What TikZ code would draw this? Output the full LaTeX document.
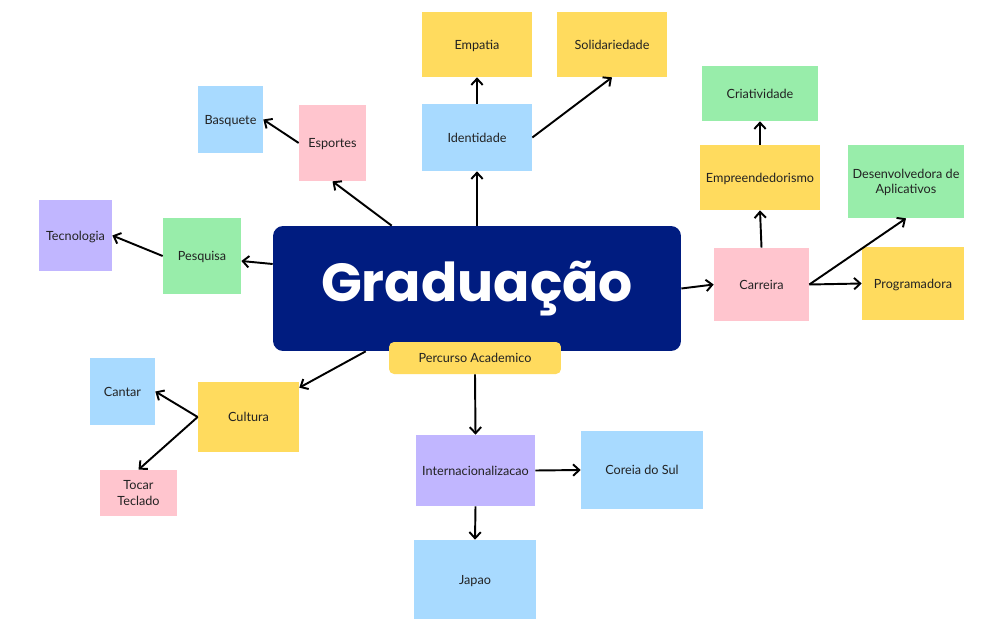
\documentclass[tikz,border=0pt]{standalone}
\usepackage{fontspec}
\setmainfont{Lato}
\newfontfamily\titlefont{Poppins}
\usetikzlibrary{arrows.meta,calc}
\definecolor{yel}{HTML}{FFDB5E}
\definecolor{blu}{HTML}{A8DAFF}
\definecolor{pnk}{HTML}{FFC5CE}
\definecolor{grn}{HTML}{98EDAA}
\definecolor{pur}{HTML}{C1B6FF}
\definecolor{navy}{HTML}{001C80}
\definecolor{txt}{HTML}{222222}
\begin{document}
\begin{tikzpicture}[x=0.02cm,y=-0.02cm,
  box/.style={rectangle, inner sep=0pt, font=\fontsize{7.2}{8.7}\selectfont, text=txt, align=center, text depth=0pt},
  arr/.style={line width=1.1pt, -{Straight Barb[length=3.5pt,width=6.5pt]}}]
\useasboundingbox (0,0) rectangle (1000,635);
\fill[white] (0,0) rectangle (1000,635);
% central
\node[rectangle, fill=navy, rounded corners=0.2cm, minimum width=8.16cm, minimum height=2.5cm, inner sep=0pt,
  text=white, font=\titlefont\bfseries\fontsize{30.5}{34}\selectfont] (main) at (477,288.5) {Graduação};
\node[box, fill=yel, rounded corners=0.1cm, minimum width=3.44cm, minimum height=0.64cm] (perc) at (475,358) {Percurso Academico};
% top
\node[box, fill=yel, minimum width=2.2cm, minimum height=1.3cm] (emp) at (477,44.5) {Empatia};
\node[box, fill=yel, minimum width=2.2cm, minimum height=1.3cm] (sol) at (612,44.5) {Solidariedade};
\node[box, fill=blu, minimum width=2.2cm, minimum height=1.34cm] (ide) at (477,137.5) {Identidade};
\node[box, fill=blu, minimum width=1.3cm, minimum height=1.34cm] (basq) at (230.5,119.5) {Basquete};
\node[box, fill=pnk, minimum width=1.34cm, minimum height=1.52cm] (esp) at (332.5,143) {Esportes};
% left
\node[box, fill=pur, minimum width=1.46cm, minimum height=1.42cm] (tec) at (75.5,235.5) {Tecnologia};
\node[box, fill=grn, minimum width=1.56cm, minimum height=1.52cm] (pesq) at (202,256) {Pesquisa};
\node[box, fill=blu, minimum width=1.3cm, minimum height=1.34cm] (cantar) at (122.5,391.5) {Cantar};
\node[box, fill=yel, minimum width=2.02cm, minimum height=1.4cm] (cult) at (248.5,417) {Cultura};
\node[box, fill=pnk, minimum width=1.54cm, minimum height=0.92cm] (tocar) at (138.5,493) {Tocar\\Teclado};
% bottom
\node[box, fill=pur, minimum width=2.38cm, minimum height=1.42cm] (intern) at (475.5,470.5) {Internacionalizacao};
\node[box, fill=blu, minimum width=2.44cm, minimum height=1.56cm] (coreia) at (642,470) {Coreia do Sul};
\node[box, fill=blu, minimum width=2.44cm, minimum height=1.58cm] (japao) at (475,579.5) {Japao};
% right
\node[box, fill=grn, minimum width=2.32cm, minimum height=1.1cm] (cria) at (760,93.5) {Criatividade};
\node[box, fill=yel, minimum width=2.4cm, minimum height=1.3cm] (empre) at (760,177.5) {Empreendedorismo};
\node[box, fill=grn, minimum width=2.32cm, minimum height=1.46cm] (desenv) at (906,181.5) {Desenvolvedora de\\Aplicativos};
\node[box, fill=pnk, minimum width=1.9cm, minimum height=1.46cm] (carr) at (761.5,284.5) {Carreira};
\node[box, fill=yel, minimum width=2.04cm, minimum height=1.46cm] (prog) at (913,283.5) {Programadora};
% connectors
\draw[arr] ($(main.north west)+(119,0)$) -- (esp.south);
\draw[arr] (main.north) -- (ide.south);
\draw[arr] (ide.north) -- (emp.south);
\draw[arr] (ide.east) -- (sol.south);
\draw[arr] (esp.west) -- (basq.east);
\draw[arr] ($(main.west)+(0,-24.5)$) -- ($(pesq.east)+(0,5)$);
\draw[arr] (pesq.west) -- (tec.east);
\draw[arr] ($(main.south west)+(93,0)$) -- ($(cult.north east)+(0,6)$);
\draw[arr] (cult.west) -- (cantar.east);
\draw[arr] (cult.west) -- (tocar.north);
\draw[arr] (perc.south) -- (intern.north);
\draw[arr] (intern.east) -- (coreia.west);
\draw[arr] (intern.south) -- (japao.north);
\draw[arr] (main.east) -- (carr.west);
\draw[arr] (carr.north) -- (empre.south);
\draw[arr] (empre.north) -- (cria.south);
\draw[arr] (carr.east) -- (desenv.south);
\draw[arr] (carr.east) -- (prog.west);
\end{tikzpicture}
\end{document}
